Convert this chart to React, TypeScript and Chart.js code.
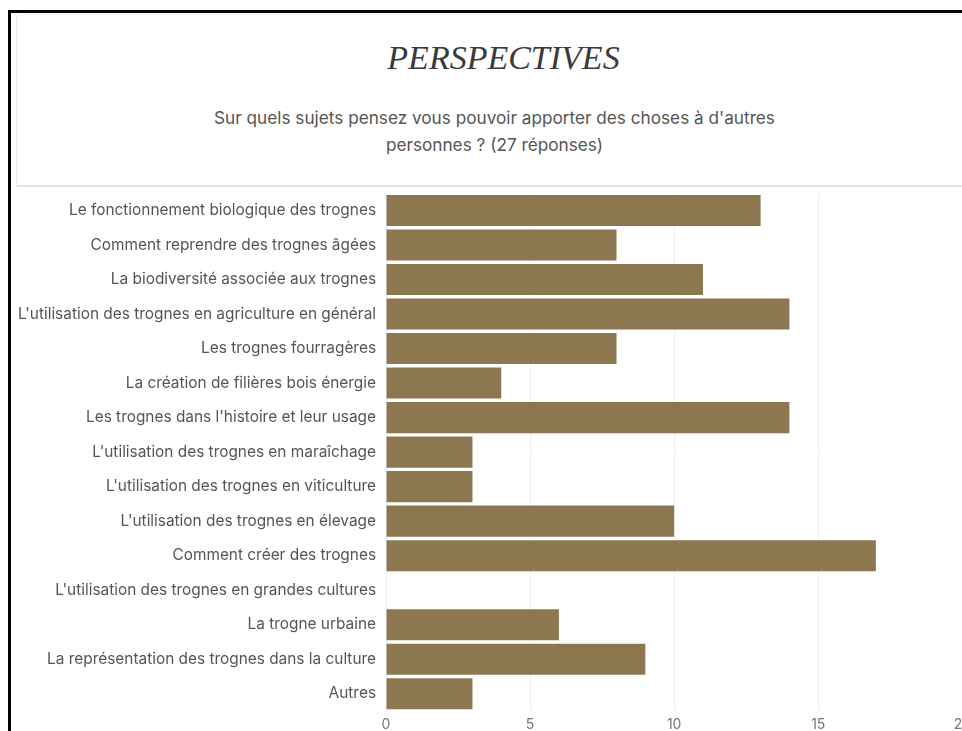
import React, { useEffect, useRef } from "react";
import { Chart, registerables } from "chart.js";

Chart.register(...registerables);

const categories: string[] = [
  "Le fonctionnement biologique des trognes",
  "Comment reprendre des trognes âgées",
  "La biodiversité associée aux trognes",
  "L'utilisation des trognes en agriculture en général",
  "Les trognes fourragères",
  "La création de filières bois énergie",
  "Les trognes dans l'histoire et leur usage",
  "L'utilisation des trognes en maraîchage",
  "L'utilisation des trognes en viticulture",
  "L'utilisation des trognes en élevage",
  "Comment créer des trognes",
  "L'utilisation des trognes en grandes cultures",
  "La trogne urbaine",
  "La représentation des trognes dans la culture",
  "Autres",
];

const responses: number[] = [13, 8, 11, 14, 8, 4, 14, 3, 3, 10, 17, 0, 6, 9, 3];

const xTicks: number[] = [0, 5, 10, 15, 20];

const title = "PERSPECTIVES";
const subtitleLine1 = "Sur quels sujets pensez vous pouvoir apporter des choses à d'autres";
const subtitleLine2 = "personnes ? (27 réponses)";

export default function App() {
  const canvasRef = useRef<HTMLCanvasElement | null>(null);

  useEffect(() => {
    if (!canvasRef.current) return;
    const chart = new Chart(canvasRef.current, {
      type: "bar",
      data: {
        labels: categories,
        datasets: [
          {
            data: responses,
            backgroundColor: "#8c7750",
            borderWidth: 0,
            barPercentage: 0.9,
            categoryPercentage: 1.0,
          },
        ],
      },
      options: {
        indexAxis: "y",
        responsive: false,
        animation: false,
        layout: { padding: { top: 5, left: 0, right: 0, bottom: 0 } },
        plugins: {
          legend: { display: false },
          tooltip: { enabled: false },
          title: { display: false },
        },
        scales: {
          x: {
            min: xTicks[0],
            max: xTicks[xTicks.length - 1],
            afterBuildTicks: (scale: any) => {
              scale.ticks = xTicks.map((v) => ({ value: v }));
            },
            afterFit: (scale: any) => {
              scale.height = 30;
            },
            grid: {
              color: "rgba(0,0,0,0.06)",
              drawTicks: false,
            },
            border: { display: false },
            ticks: {
              padding: 5,
              color: "#777",
              font: { family: "Inter", size: 14 },
            },
          },
          y: {
            afterFit: (scale: any) => {
              scale.width = 374;
            },
            grid: { display: false, drawTicks: false },
            border: { display: false },
            ticks: {
              padding: 10,
              color: "#555",
              autoSkip: false,
              font: { family: "Inter", size: 15.4 },
            },
          },
        },
      },
    });
    return () => chart.destroy();
  }, []);

  return (
    <div
      style={{
        position: "fixed",
        left: 0,
        top: 0,
        width: 962,
        height: 731,
        overflow: "hidden",
        background: "#fff",
      }}
    >
      <div style={{ position: "absolute", left: 8, top: 10, width: 960, height: 3, background: "#000" }} />
      <div style={{ position: "absolute", left: 8, top: 10, width: 3, height: 730, background: "#000" }} />
      <div
        style={{
          position: "absolute",
          left: 16,
          top: 14,
          width: 956,
          height: 173,
          borderLeft: "1px solid #ececec",
          borderTop: "1px solid #f0f0f0",
          borderBottom: "2px solid #e3e3e3",
          boxSizing: "border-box",
        }}
      >
        <div
          style={{
            position: "absolute",
            left: 18,
            right: 0,
            top: 23,
            textAlign: "center",
            fontFamily: "'Liberation Serif', serif",
            fontStyle: "italic",
            fontSize: 34,
            color: "#3a3a3a",
            lineHeight: "40px",
          }}
        >
          {title}
        </div>
        <div
          style={{
            position: "absolute",
            left: 0,
            right: 0,
            top: 89,
            textAlign: "center",
            fontFamily: "Inter, sans-serif",
            fontSize: 17.2,
            color: "#555",
            lineHeight: "27px",
          }}
        >
          {subtitleLine1}
          <br />
          {subtitleLine2}
        </div>
      </div>
      <div style={{ position: "absolute", left: 12, top: 174, width: 964, height: 567 }}>
        <canvas ref={canvasRef} width={964} height={567} />
      </div>
    </div>
  );
}
